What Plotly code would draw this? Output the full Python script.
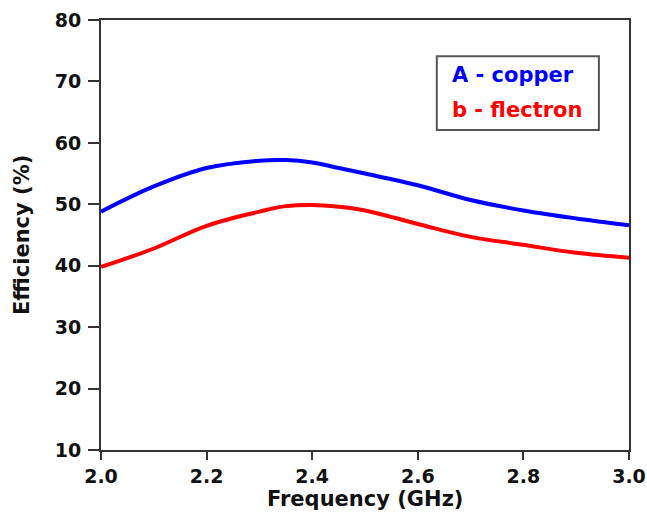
import plotly.graph_objects as go

freq = [2.0, 2.1, 2.2, 2.3, 2.35, 2.4, 2.45, 2.5, 2.6, 2.7, 2.8, 2.9, 3.0]
copper = [48.8, 52.9, 55.9, 57.1, 57.2, 56.8, 55.9, 55.0, 53.1, 50.7, 49.0, 47.7, 46.6]
flectron = [39.8, 42.8, 46.5, 48.8, 49.7, 49.9, 49.6, 49.0, 46.8, 44.7, 43.4, 42.1, 41.3]

x_ticks = [2.0, 2.2, 2.4, 2.6, 2.8, 3.0]
x_tick_labels = ["2.0", "2.2", "2.4", "2.6", "2.8", "3.0"]
y_ticks = [10, 20, 30, 40, 50, 60, 70, 80]

FONT = "DejaVu Sans"

fig = go.Figure()
fig.add_trace(go.Scatter(x=freq, y=copper, mode="lines", name="A - copper",
                         line=dict(color="#0000ff", width=4, shape="spline", smoothing=1.0)))
fig.add_trace(go.Scatter(x=freq, y=flectron, mode="lines", name="b - flectron",
                         line=dict(color="#ff0000", width=4, shape="spline", smoothing=1.0)))

axis_common = dict(showgrid=False, zeroline=False, showline=True, linecolor="#333333", linewidth=2,
                   tickcolor="#333333", tickwidth=2, automargin=False)

fig.update_layout(
    width=647, height=525,
    margin=dict(l=101, r=18, t=20, b=75),
    paper_bgcolor="white", plot_bgcolor="white",
    showlegend=False,
    font=dict(family=FONT, color="#111111"),
    xaxis=dict(range=[2.0, 3.0], tickvals=x_ticks, ticktext=x_tick_labels, ticks="outside", ticklen=8,
               mirror=True,
               tickfont=dict(family=FONT, size=19, color="#111111", weight="bold"),
               **axis_common),
    yaxis=dict(range=[10, 80], tickvals=y_ticks, ticks="outside", ticklen=11, mirror=True,
               ticklabelstandoff=3,
               tickfont=dict(family=FONT, size=19, color="#111111", weight="bold"),
               **axis_common),
    yaxis2=dict(range=[10, 80], tickvals=y_ticks, overlaying="y", side="right", anchor="x",
                ticks="inside", ticklen=7, showticklabels=False, showgrid=False, zeroline=False,
                automargin=False,
                showline=True, linecolor="#888888", linewidth=2, tickcolor="#888888", tickwidth=2),
)

fig.add_annotation(xref="paper", yref="paper", x=0.5, y=-0.113, xanchor="center", yanchor="middle",
                   text="<b>Frequency (GHz)</b>", showarrow=False,
                   font=dict(family=FONT, size=21, color="#111111"))
fig.add_annotation(xref="paper", yref="paper", x=-0.1496, y=0.5, xanchor="center", yanchor="middle",
                   text="<b>Efficiency (%)</b>", showarrow=False, textangle=-90,
                   font=dict(family=FONT, size=21, color="#111111"))

fig.add_shape(type="rect", xref="x", yref="y", x0=2.636, x1=2.943, y0=62.1, y1=74.1,
              line=dict(color="#555555", width=2), fillcolor="white")
fig.add_annotation(xref="x", yref="y", x=2.661, y=70.97, xanchor="left", yanchor="middle",
                   text="<b>A - copper</b>", showarrow=False,
                   font=dict(family=FONT, size=21, color="#0000ff"))
fig.add_annotation(xref="x", yref="y", x=2.661, y=65.35, xanchor="left", yanchor="middle",
                   text="<b>b - flectron</b>", showarrow=False,
                   font=dict(family=FONT, size=21, color="#ff0000"))

fig.write_html("out.html", config={"displayModeBar": False},
               post_script="document.body.style.margin='0px';document.body.style.overflow='hidden';")
